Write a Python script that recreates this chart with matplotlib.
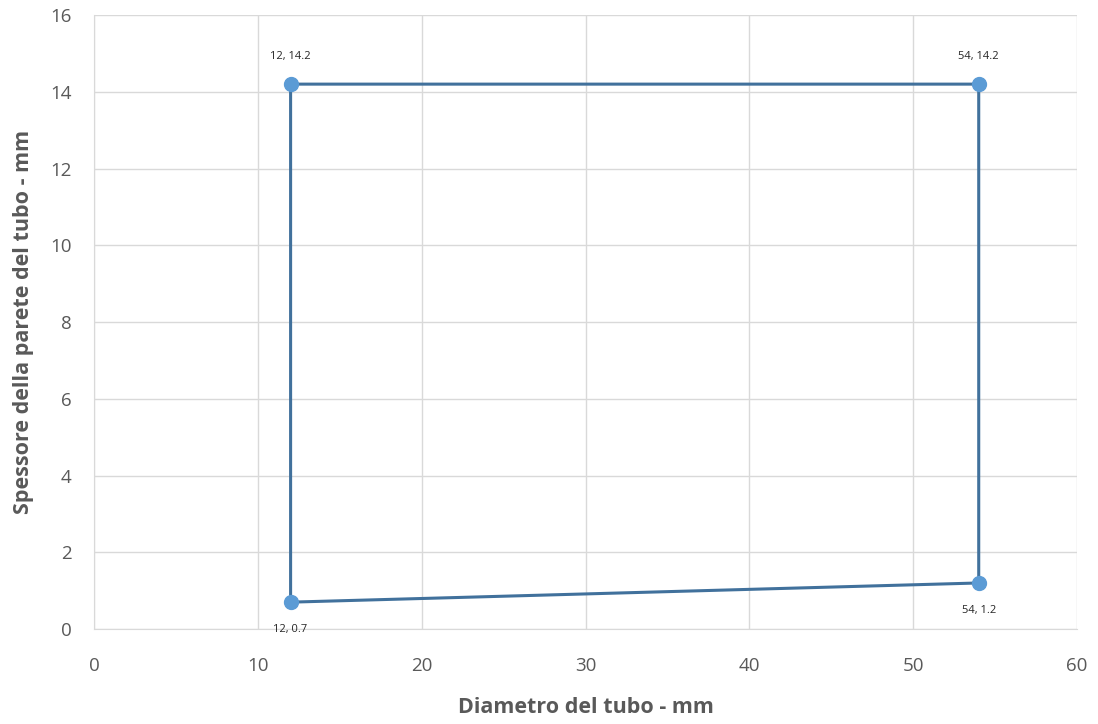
import matplotlib
matplotlib.use('Agg')
import matplotlib.pyplot as plt

# tube outline: diameter (mm) vs wall thickness (mm)
diametro = [12, 54, 54, 12, 12]
spessore = [0.7, 1.2, 14.2, 14.2, 0.7]
punti_x = [12, 54, 54, 12]
punti_y = [0.7, 1.2, 14.2, 14.2]
etichette = ['12, 0.7', '54, 1.2', '54, 14.2', '12, 14.2']

plt.rcParams['font.family'] = ['Open Sans', 'DejaVu Sans']

fig = plt.figure(figsize=(10.98, 7.24), dpi=100)
ax = fig.add_axes([0.0856, 0.1312, 0.8953, 0.848])

ax.plot(diametro, spessore, color='#41719C', linewidth=2.2, zorder=3)
ax.scatter(punti_x, punti_y, s=100, color='#5B9BD5', zorder=4)

offsets = [(0, -20), (0, -20), (0, 20), (0, 20)]
for x, y, lab, off in zip(punti_x, punti_y, etichette, offsets):
    ax.annotate(lab, (x, y), xytext=off, textcoords='offset points',
                ha='center', va='center', fontsize=8, color='#262626')

ax.set_xlim(0, 60)
ax.set_ylim(0, 16)
ax.set_xticks(range(0, 61, 10))
ax.set_yticks(range(0, 17, 2))
ax.grid(True, color='#D9D9D9', linewidth=1)
ax.set_axisbelow(True)
for side in ['top', 'right']:
    ax.spines[side].set_visible(False)
ax.spines['left'].set_color('#D9D9D9')
ax.spines['bottom'].set_color('#D9D9D9')
ax.tick_params(length=0, labelsize=13.5, labelcolor='#595959')
ax.tick_params(axis='x', pad=20)
ax.tick_params(axis='y', pad=16)

ax.set_xlabel('Diametro del tubo - mm', fontsize=15.5, fontweight='bold',
              color='#595959', labelpad=16)
ax.set_ylabel('Spessore della parete del tubo - mm', fontsize=15.5,
              fontweight='bold', color='#595959', labelpad=12)

fig.savefig('out.png', dpi=100)
